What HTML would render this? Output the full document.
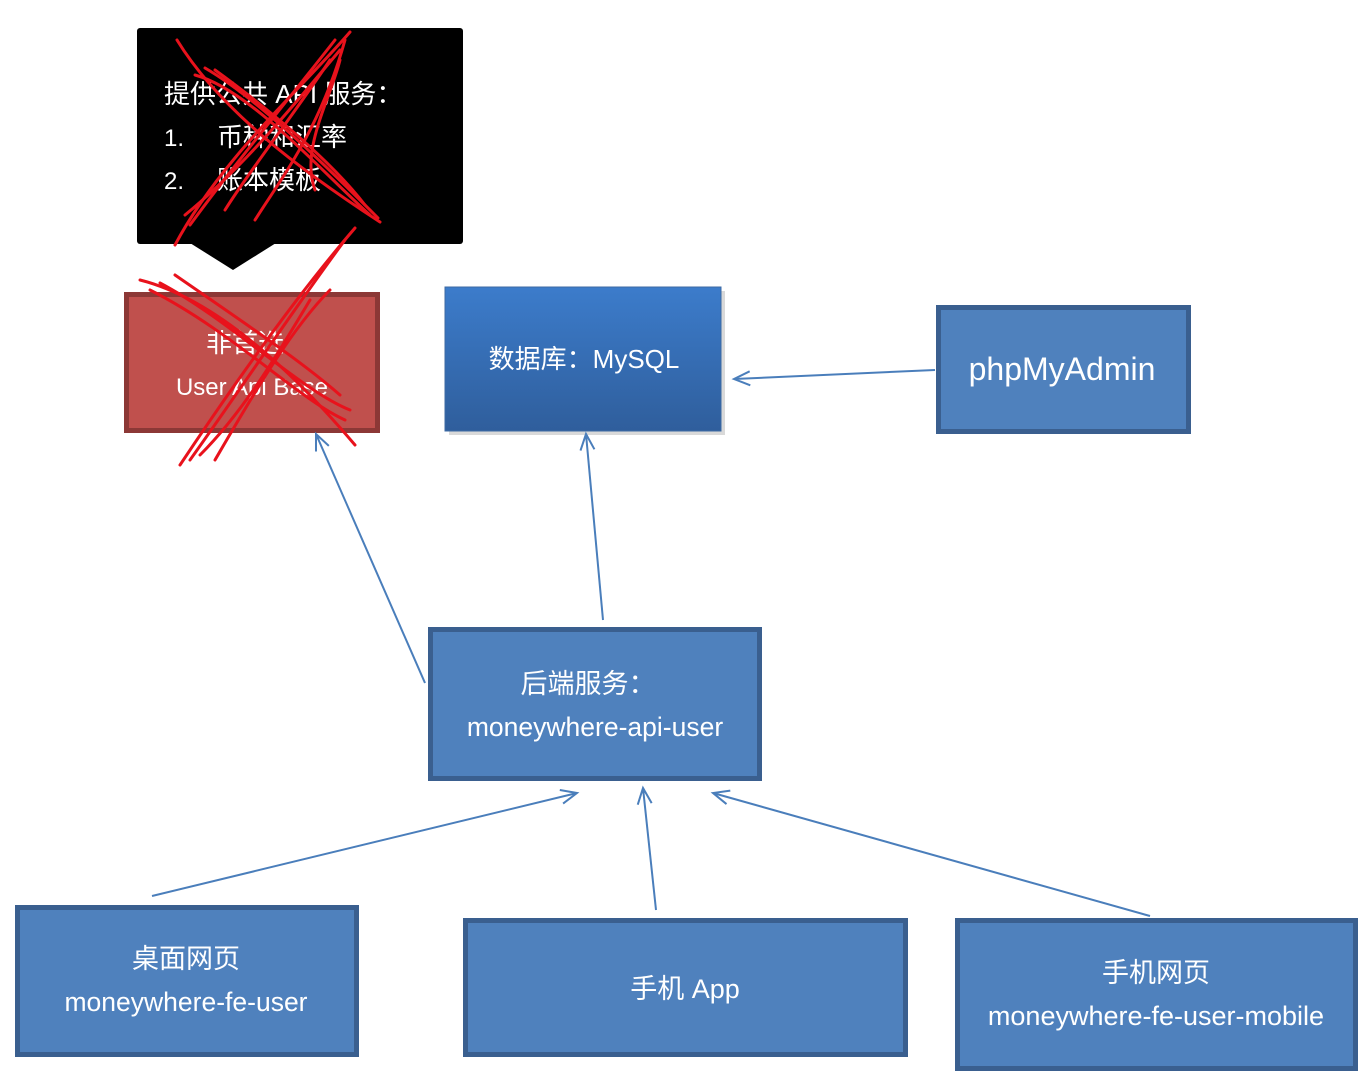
<!DOCTYPE html>
<html><head><meta charset="utf-8"><style>
html,body{margin:0;padding:0;background:#fff;}
svg{display:block;}
text{font-family:"Liberation Sans","Noto Sans CJK SC",sans-serif;fill:#fff;}
</style></head><body>
<svg width="1370" height="1087" viewBox="0 0 1370 1087" xmlns="http://www.w3.org/2000/svg">
<defs>
<linearGradient id="g" x1="0" y1="0" x2="0" y2="1"><stop offset="0" stop-color="#3c7ccb"/><stop offset="1" stop-color="#2f5e9c"/></linearGradient>
<marker id="a" markerWidth="20" markerHeight="20" refX="17" refY="8" orient="auto" markerUnits="userSpaceOnUse"><path d="M1,1 L17,8 L1,15" fill="none" stroke="#4a7ebb" stroke-width="2"/></marker>
</defs>
<!-- callout -->
<rect x="137" y="28" width="326" height="216" rx="3" fill="#000"/>
<polygon points="190,243 233,270 276,243" fill="#000"/>
<text x="164" y="103" font-size="26">提供公共 API 服务：</text>
<text x="164" y="146" font-size="24">1.</text><text x="217" y="146" font-size="26">币种和汇率</text>
<text x="164" y="189" font-size="24">2.</text><text x="217" y="189" font-size="26">账本模板</text>
<!-- red box -->
<rect x="126.5" y="294.5" width="251" height="136" fill="#c0504d" stroke="#8c3836" stroke-width="5"/>
<text x="245" y="352" font-size="26" text-anchor="middle">非首选</text>
<text x="252" y="395" font-size="24" text-anchor="middle">User Api Base</text>
<!-- MySQL -->
<rect x="449" y="291" width="276" height="144" fill="#000" opacity="0.15"/>
<rect x="445" y="287" width="276" height="144" fill="url(#g)" stroke="#3d6aa3" stroke-width="1"/>
<text x="584" y="368" font-size="26" text-anchor="middle">数据库：MySQL</text>
<!-- blue boxes -->
<g fill="#4f81bd" stroke="#3a5f8f" stroke-width="5">
<rect x="938.5" y="307.5" width="250" height="124"/>
<rect x="430.5" y="629.5" width="329" height="149"/>
<rect x="17.5" y="907.5" width="339" height="147"/>
<rect x="465.5" y="920.5" width="440" height="134"/>
<rect x="957.5" y="920.5" width="398" height="148"/>
</g>
<text x="1062" y="380" font-size="32" text-anchor="middle">phpMyAdmin</text>
<text x="588" y="693" font-size="27" text-anchor="middle">后端服务：</text>
<text x="595" y="736" font-size="26.5" text-anchor="middle">moneywhere-api-user</text>
<text x="186" y="968" font-size="27" text-anchor="middle">桌面网页</text>
<text x="186" y="1011" font-size="26.5" text-anchor="middle">moneywhere-fe-user</text>
<text x="685" y="998" font-size="27" text-anchor="middle">手机 App</text>
<text x="1156" y="982" font-size="27" text-anchor="middle">手机网页</text>
<text x="1156" y="1025" font-size="27" text-anchor="middle">moneywhere-fe-user-mobile</text>
<!-- arrows -->
<g stroke="#4a7ebb" stroke-width="2" fill="none">
<line x1="935" y1="370" x2="734" y2="379" marker-end="url(#a)"/>
<line x1="603" y1="620" x2="586" y2="434" marker-end="url(#a)"/>
<line x1="425" y1="683" x2="316" y2="434" marker-end="url(#a)"/>
<line x1="152" y1="896" x2="577" y2="793" marker-end="url(#a)"/>
<line x1="656" y1="910" x2="643" y2="788" marker-end="url(#a)"/>
<line x1="1150" y1="916" x2="713" y2="793" marker-end="url(#a)"/>
</g>
<!-- red scribbles -->
<g stroke="#e8121c" stroke-width="3" fill="none" stroke-linecap="round">
<path d="M177,40 C220,110 300,170 380,222"/>
<path d="M195,75 C250,90 320,170 370,215"/>
<path d="M215,70 C270,110 330,160 365,205"/>
<path d="M205,68 C260,100 330,170 378,218"/>
<path d="M350,32 C300,90 220,160 175,245"/>
<path d="M340,50 C290,110 240,170 185,215"/>
<path d="M330,60 C290,120 250,170 225,210"/>
<path d="M335,40 C280,110 230,170 190,225"/>
<path d="M255,220 C280,180 320,130 345,40"/>
<path d="M315,190 C300,150 330,100 340,60"/>
<path d="M355,228 C310,280 250,360 180,465"/>
<path d="M330,290 C290,330 250,400 215,460"/>
<path d="M310,300 C280,350 245,410 200,455"/>
<path d="M345,240 C300,300 240,390 190,460"/>
<path d="M140,280 C220,300 300,380 355,445"/>
<path d="M160,283 C230,320 300,390 350,410"/>
<path d="M175,275 C240,320 300,360 340,395"/>
<path d="M150,290 C230,330 300,400 345,420"/>
</g>
</svg>
</body></html>
